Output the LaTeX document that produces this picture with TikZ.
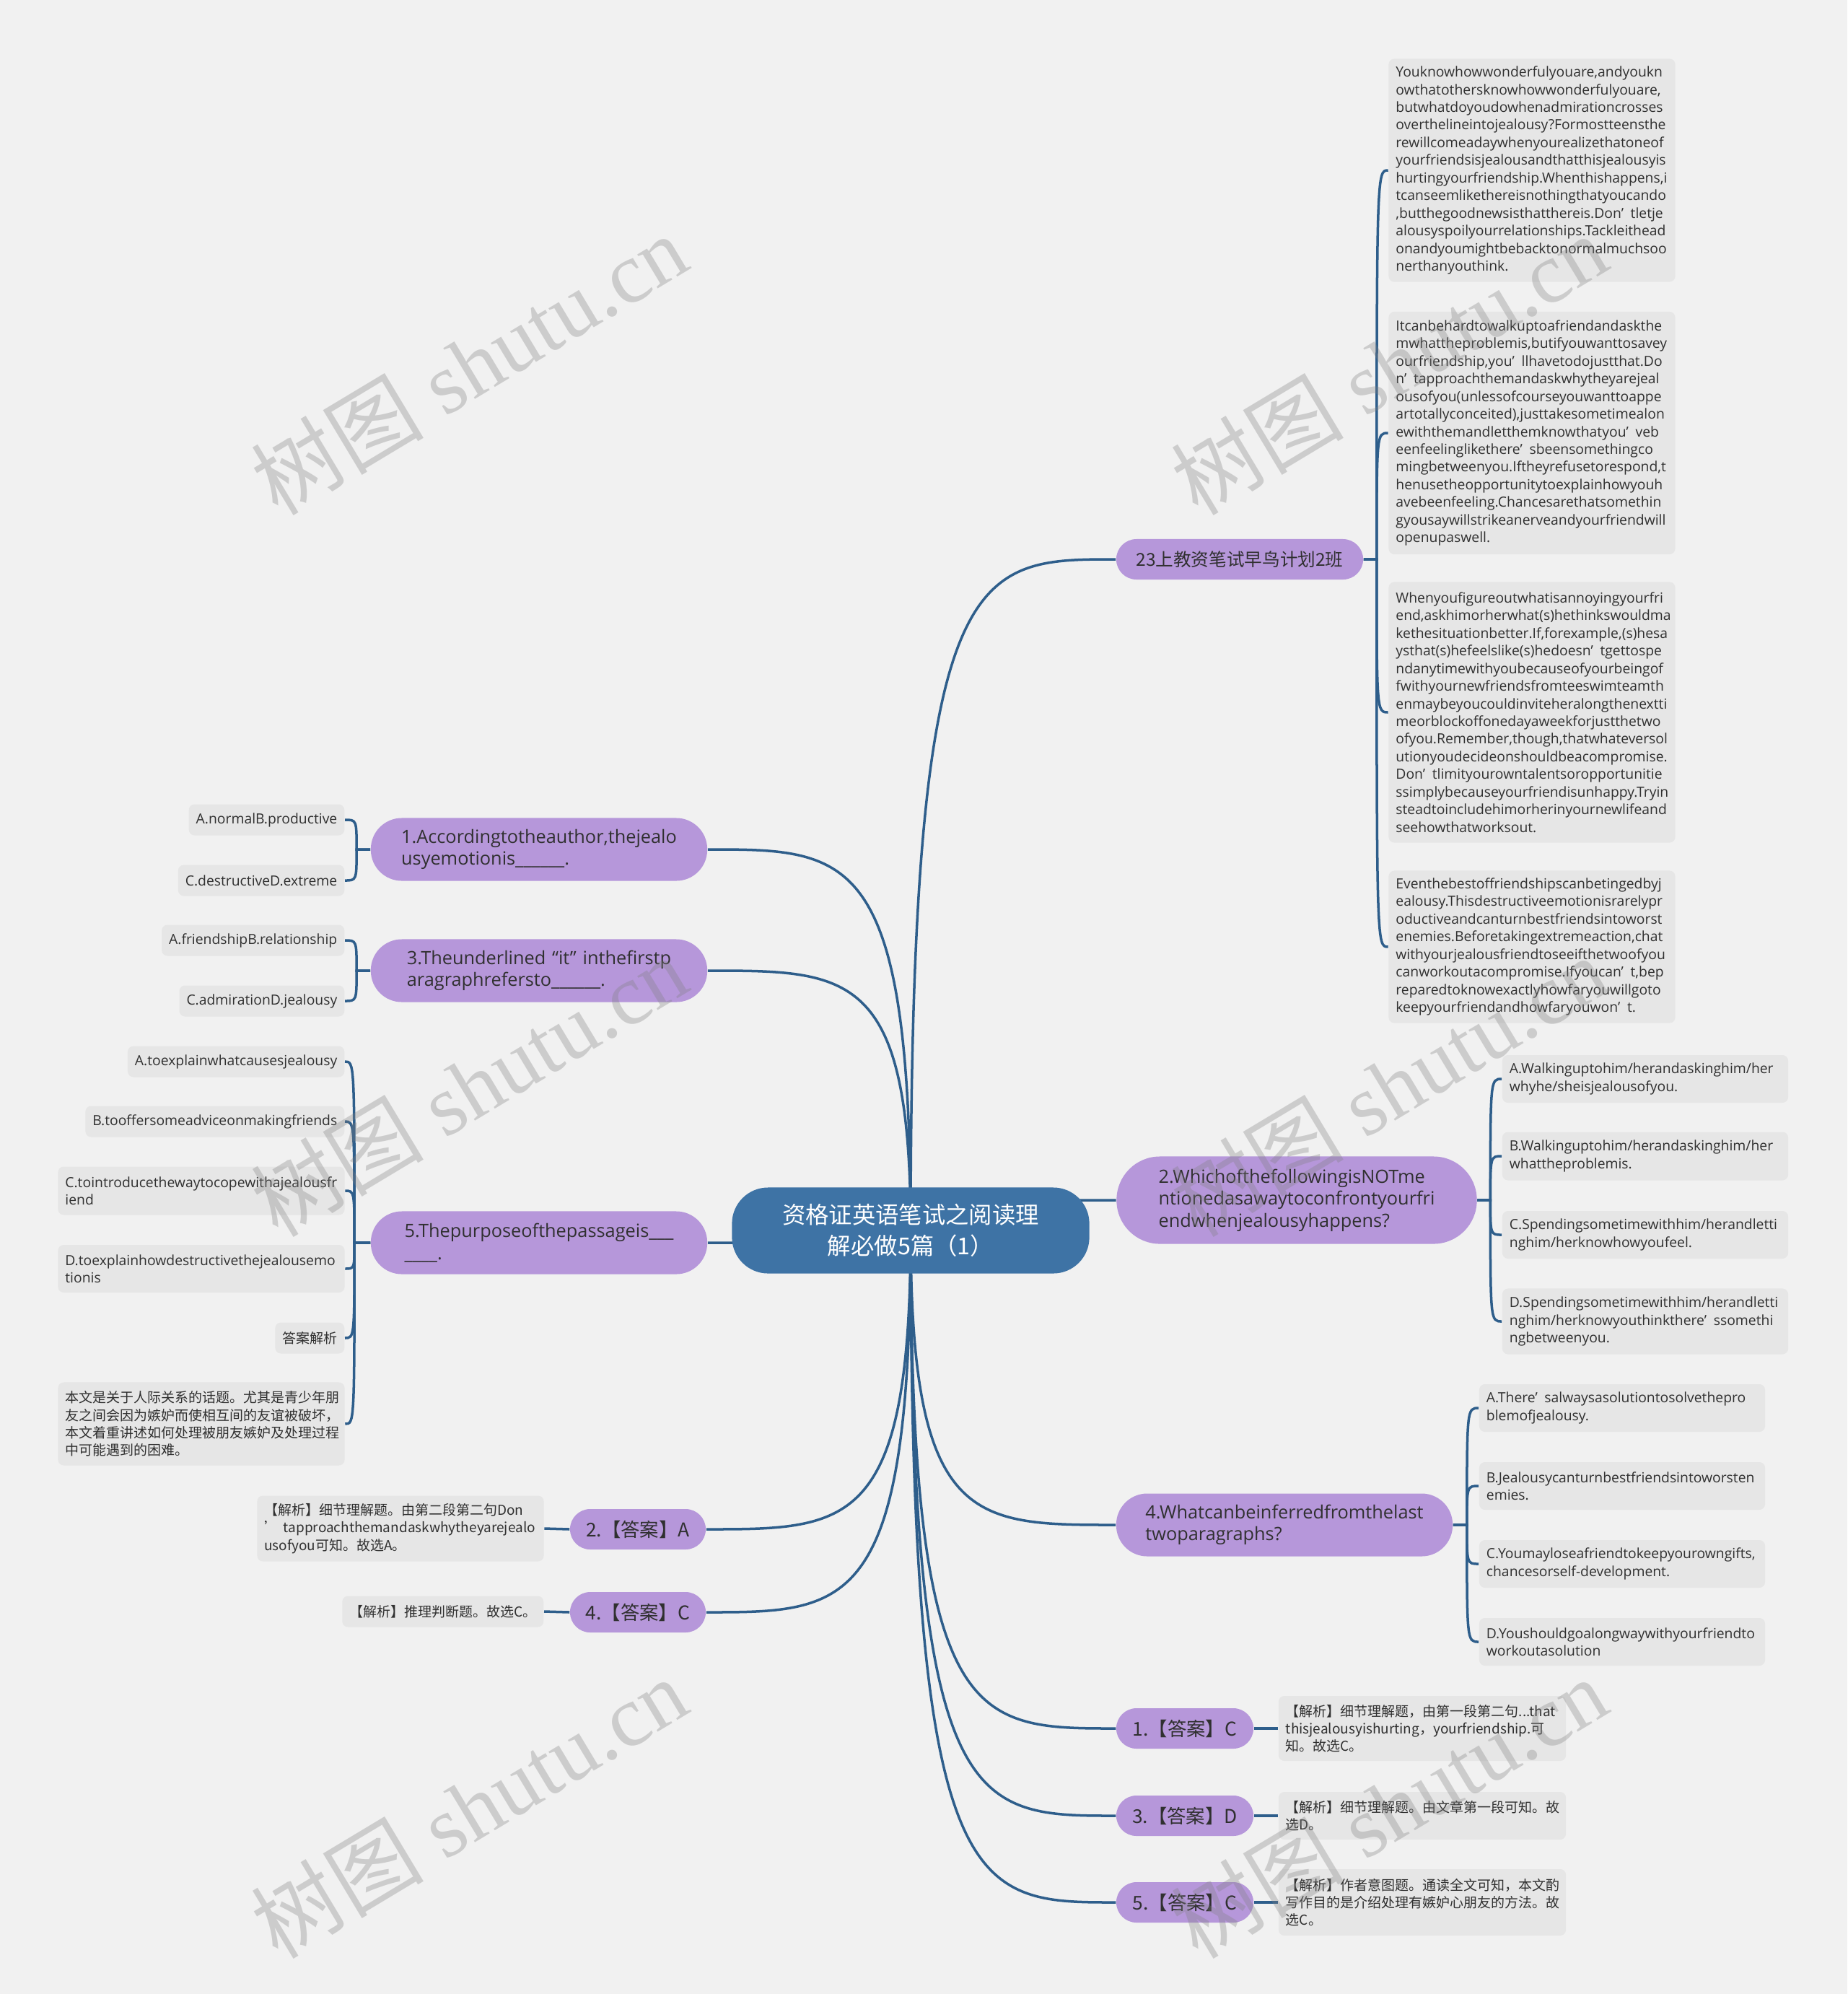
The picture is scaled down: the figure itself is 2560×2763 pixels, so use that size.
\documentclass[tikz,border=0pt]{standalone}
\usepackage{fontspec}
\setmainfont{Open Sans}
\newfontfamily\cjk{Noto Sans CJK SC}
\newfontfamily\wmserif{Liberation Serif}
\usetikzlibrary{calc}
\pgfdeclarelayer{back}
\pgfdeclarelayer{bg}
\pgfsetlayers{back,bg,main}
\definecolor{bgc}{HTML}{F1F1F1}
\definecolor{leafc}{HTML}{E6E6E6}
\definecolor{purp}{HTML}{B697DA}
\definecolor{hubc}{HTML}{3E73A5}
\definecolor{linkc}{HTML}{2E5E8B}
\definecolor{txtc}{HTML}{303030}
\newcommand\fq{’\nobreak\hskip0.5em\relax}
\hyphenpenalty=10000
\exhyphenpenalty=10000
\begin{document}
\begin{tikzpicture}[x=0.01cm,y=-0.01cm,
  link/.style={draw=linkc, line width=0.035cm},
  leafbox/.style={fill=leafc, rounded corners=0.08cm, inner xsep=0.1cm, inner ysep=0cm,
    text=txtc, align=left, font=\fontsize{5.5}{6.95}\selectfont},
  cjkleaf/.style={leafbox, font=\cjk\fontsize{5.4}{6.9}\selectfont},
  qbox/.style={fill=purp, rounded corners=0.43cm, text=txtc, align=left, inner sep=0cm,
    minimum height=0.87cm, font=\fontsize{7.2}{8.7}\selectfont},
  abox/.style={fill=purp, rounded corners=0.28cm, text=txtc, align=center, inner sep=0cm,
    minimum height=0.56cm, font=\cjk\fontsize{7.5}{9}\selectfont},
  hub/.style={fill=hubc, rounded corners=0.5cm, text=white, align=center, inner sep=0cm,
    minimum width=4.95cm, minimum height=1.19cm, font=\cjk\fontsize{9.2}{12.2}\selectfont},
  wm/.style={rotate=31, text=black!50, opacity=0.32, font=\wmserif\fontsize{34}{34}\selectfont}
]
\begin{pgfonlayer}{back}
\fill[bgc] (0,0) rectangle (2560,2763);
\end{pgfonlayer}
\useasboundingbox (0,0) rectangle (2560,2763);

% ---------- hub ----------
\node[hub] (c) at (1262,1705) {资格证英语笔试之阅读理\\解必做5篇（1）};

% ---------- right main nodes ----------
\node[abox, minimum width=3.42cm, font=\cjk\fontsize{7}{8.4}\selectfont] (n23) at (1718,775) {23上教资笔试早鸟计划2班};
\node[qbox, minimum width=4.99cm, minimum height=1.21cm, rounded corners=0.6cm] (q2) at (1797,1663)
  {2.WhichofthefollowingisNOTme\\ntionedasawaytoconfrontyourfri\\endwhenjealousyhappens?};
\node[qbox, minimum width=4.66cm] (q4) at (1780,2113) {4.Whatcanbeinferredfromthelast\\twoparagraphs?};
\node[abox, minimum width=1.9cm] (a1) at (1642,2395) {1.【答案】C};
\node[abox, minimum width=1.9cm] (a3) at (1642,2516) {3.【答案】D};
\node[abox, minimum width=1.9cm] (a5) at (1642,2636) {5.【答案】C};

% ---------- left main nodes ----------
\node[qbox, minimum width=4.66cm] (q1) at (747,1177) {1.Accordingtotheauthor,thejealo\\usyemotionis\_\_\_\_\_\_.};
\node[qbox, minimum width=4.66cm] (q3) at (747,1345) {3.Theunderlined\hspace{0.35em}“it”\hspace{0.35em}inthefirstp\\aragraphrefersto\_\_\_\_\_\_.};
\node[qbox, minimum width=4.66cm] (q5) at (747,1722) {5.Thepurposeofthepassageis\_\_\_\\\_\_\_\_.};
\node[abox, minimum width=1.88cm] (a2) at (884,2119) {2.【答案】A};
\node[abox, minimum width=1.88cm] (a4) at (884,2234) {4.【答案】C};

% ---------- right text blocks ----------
\node[leafbox, text width=3.77cm, minimum height=3.09cm] (t1) at (2123,236) {Youknowhowwonderfulyouare,andyoukn\\
owthatothersknowhowwonderfulyouare,\\
butwhatdoyoudowhenadmirationcrosses\\
overthelineintojealousy?Formostteensthe\\
rewillcomeadaywhenyourealizethatoneof\\
yourfriendsisjealousandthatthisjealousyis\\
hurtingyourfriendship.Whenthishappens,i\\
tcanseemlikethereisnothingthatyoucando\\
,butthegoodnewsisthatthereis.Don\fq tletje\\
alousyspoilyourrelationships.Tackleithead\\
onandyoumightbebacktonormalmuchsoo\\
nerthanyouthink.};
\node[leafbox, text width=3.77cm, minimum height=3.36cm] (t2) at (2123,600) {Itcanbehardtowalkuptoafriendandaskthe\\
mwhattheproblemis,butifyouwanttosavey\\
ourfriendship,you\fq llhavetodojustthat.Do\\
n\fq tapproachthemandaskwhytheyarejeal\\
ousofyou(unlessofcourseyouwanttoappe\\
artotallyconceited),justtakesometimealon\\
ewiththemandletthemknowthatyou\fq veb\\
eenfeelinglikethere\fq sbeensomethingco\\
mingbetweenyou.Iftheyrefusetorespond,t\\
henusetheopportunitytoexplainhowyouh\\
avebeenfeeling.Chancesarethatsomethin\\
gyousaywillstrikeanerveandyourfriendwill\\
openupaswell.};
\node[leafbox, text width=3.77cm, minimum height=3.61cm] (t3) at (2123,987) {Whenyoufigureoutwhatisannoyingyourfri\\
end,askhimorherwhat(s)hethinkswouldma\\
kethesituationbetter.If,forexample,(s)hesa\\
ysthat(s)hefeelslike(s)hedoesn\fq tgettospe\\
ndanytimewithyoubecauseofyourbeingof\\
fwithyournewfriendsfromteeswimteamth\\
enmaybeyoucouldinviteheralongthenextti\\
meorblockoffonedayaweekforjustthetwo\\
ofyou.Remember,though,thatwhateversol\\
utionyoudecideonshouldbeacompromise.\\
Don\fq tlimityourowntalentsoropportunitie\\
ssimplybecauseyourfriendisunhappy.Tryin\\
steadtoincludehimorherinyournewlifeand\\
seehowthatworksout.};
\node[leafbox, text width=3.77cm, minimum height=2.11cm] (t4) at (2123,1312) {Eventhebestoffriendshipscanbetingedbyj\\
ealousy.Thisdestructiveemotionisrarelypr\\
oductiveandcanturnbestfriendsintoworst\\
enemies.Beforetakingextremeaction,chat\\
withyourjealousfriendtoseeifthetwoofyou\\
canworkoutacompromise.Ifyoucan\fq t,bep\\
reparedtoknowexactlyhowfaryouwillgoto\\
keepyourfriendandhowfaryouwon\fq t.};

% ---------- options of question 2 ----------
\node[leafbox, text width=3.76cm, minimum height=0.66cm] (o2a) at (2280,1495) {A.Walkinguptohim/herandaskinghim/her\\whyhe/sheisjealousofyou.};
\node[leafbox, text width=3.76cm, minimum height=0.67cm] (o2b) at (2280,1602) {B.Walkinguptohim/herandaskinghim/her\\whattheproblemis.};
\node[leafbox, text width=3.76cm, minimum height=0.66cm] (o2c) at (2280,1711) {C.Spendingsometimewithhim/herandletti\\nghim/herknowhowyoufeel.};
\node[leafbox, text width=3.76cm, minimum height=0.91cm] (o2d) at (2280,1831) {D.Spendingsometimewithhim/herandletti\\nghim/herknowyouthinkthere\fq ssomethi\\ngbetweenyou.};

% ---------- options of question 4 ----------
\node[leafbox, text width=3.76cm, minimum height=0.66cm] (o4a) at (2248,1951) {A.There\fq salwaysasolutiontosolvethepro\\blemofjealousy.};
\node[leafbox, text width=3.76cm, minimum height=0.66cm] (o4b) at (2248,2059) {B.Jealousycanturnbestfriendsintoworsten\\emies.};
\node[leafbox, text width=3.76cm, minimum height=0.66cm] (o4c) at (2248,2167) {C.Youmayloseafriendtokeepyourowngifts,\\chancesorself-development.};
\node[leafbox, text width=3.76cm, minimum height=0.66cm] (o4d) at (2248,2275) {D.Youshouldgoalongwaywithyourfriendto\\workoutasolution};

% ---------- explanations right ----------
\node[cjkleaf, text width=3.78cm, minimum height=0.90cm] (e1) at (1971,2395) {【解析】细节理解题，由第一段第二句...that\\thisjealousyishurting，yourfriendship.可\\知。故选C。};
\node[cjkleaf, text width=3.78cm, minimum height=0.66cm] (e3) at (1971,2516) {【解析】细节理解题。由文章第一段可知。故\\选D。};
\node[cjkleaf, text width=3.78cm, minimum height=0.92cm] (e5) at (1971,2636) {【解析】作者意图题。通读全文可知，本文酌\\写作目的是介绍处理有嫉妒心朋友的方法。故\\选C。};

% ---------- left leaves ----------
\node[leafbox, minimum height=0.43cm, anchor=east] (l1a) at (478,1136) {A.normalB.productive};
\node[leafbox, minimum height=0.43cm, anchor=east] (l1b) at (478,1220) {C.destructiveD.extreme};
\node[leafbox, minimum height=0.43cm, anchor=east] (l3a) at (478,1303) {A.friendshipB.relationship};
\node[leafbox, minimum height=0.43cm, anchor=east] (l3b) at (478,1387) {C.admirationD.jealousy};
\node[leafbox, minimum height=0.43cm, anchor=east] (l5a) at (478,1471) {A.toexplainwhatcausesjealousy};
\node[leafbox, minimum height=0.43cm, anchor=east] (l5b) at (478,1554) {B.tooffersomeadviceonmakingfriends};
\node[leafbox, text width=3.77cm, minimum height=0.67cm] (l5c) at (279,1650) {C.tointroducethewaytocopewithajealousfr\\iend};
\node[leafbox, text width=3.77cm, minimum height=0.66cm] (l5d) at (279,1758) {D.toexplainhowdestructivethejealousemo\\tionis};
\node[cjkleaf, minimum height=0.43cm, anchor=east] (l5e) at (478,1854) {答案解析};
\node[cjkleaf, text width=3.77cm, minimum height=1.15cm] (l5f) at (279,1973) {本文是关于人际关系的话题。尤其是青少年朋\\友之间会因为嫉妒而使相互间的友谊被破坏，\\本文着重讲述如何处理被朋友嫉妒及处理过程\\中可能遇到的困难。};
\node[cjkleaf, text width=3.77cm, minimum height=0.91cm] (e2) at (555,2118) {【解析】细节理解题。由第二段第二句Don\\\mbox{’\hspace{0.4em}tapproachthemandaskwhytheyarejealo}\\usofyou可知。故选A。};
\node[cjkleaf, minimum height=0.43cm, anchor=east] (e4) at (754,2233) {【解析】推理判断题。故选C。};

% ---------- connectors ----------
\coordinate (b23) at ($(n23.east)+(18,0)$);
\coordinate (bq2) at ($(q2.east)+(18,0)$);
\coordinate (bq4) at ($(q4.east)+(19,0)$);
\coordinate (bq1) at ($(q1.west)+(-19,0)$);
\coordinate (bq3) at ($(q3.west)+(-19,0)$);
\coordinate (bq5) at ($(q5.west)+(-22,0)$);
\begin{pgfonlayer}{bg}
\foreach \n in {n23,q2,q4,a1,a3,a5}
  \draw[link] (c.center) .. controls (c.center |- \n.west) and ($(c.center |- \n.west)!0.3!(\n.west)$) .. (\n.west);
\foreach \n in {q1,q3,q5,a2,a4}
  \draw[link] (c.center) .. controls (c.center |- \n.east) and ($(c.center |- \n.east)!0.3!(\n.east)$) .. (\n.east);
\foreach \l in {t1,t2,t3,t4}
  \draw[link] (n23.east) -- (b23) .. controls (b23 |- \l.west) .. (\l.west);
\foreach \l in {o2a,o2b,o2c,o2d}
  \draw[link] (q2.east) -- (bq2) .. controls (bq2 |- \l.west) .. (\l.west);
\foreach \l in {o4a,o4b,o4c,o4d}
  \draw[link] (q4.east) -- (bq4) .. controls (bq4 |- \l.west) .. (\l.west);
\foreach \l in {l1a,l1b}
  \draw[link] (q1.west) -- (bq1) .. controls (bq1 |- \l.east) .. (\l.east);
\foreach \l in {l3a,l3b}
  \draw[link] (q3.west) -- (bq3) .. controls (bq3 |- \l.east) .. (\l.east);
\foreach \l in {l5a,l5b,l5c,l5d,l5e,l5f}
  \draw[link] (q5.west) -- (bq5) .. controls (bq5 |- \l.east) .. (\l.east);
\draw[link] (a1.east) -- (e1.west);
\draw[link] (a3.east) -- (e3.west);
\draw[link] (a5.east) -- (e5.west);
\draw[link] (e2.east) -- (a2.west);
\draw[link] (e4.east) -- (a4.west);
\end{pgfonlayer}

% ---------- watermarks ----------
\foreach \x/\y [count=\i] in {650/505, 1925/505, 650/1505, 1925/1505, 650/2505, 1925/2505}
  \node[wm, name=wm\i] at (\x,\y) {{\cjk 树图} shutu.cn};
\end{tikzpicture}
\end{document}
